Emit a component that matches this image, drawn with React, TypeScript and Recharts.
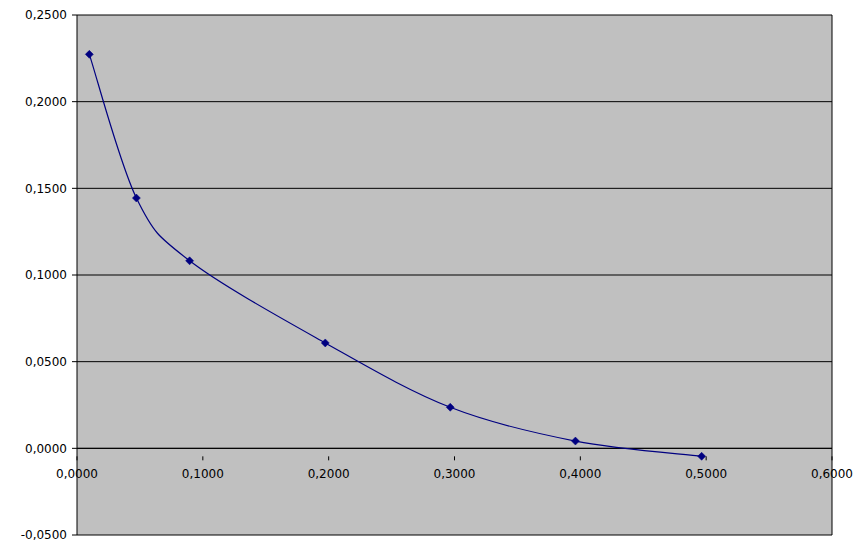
import React from "react";
import { ComposedChart, Line, XAxis, YAxis, CartesianGrid, ReferenceLine } from "recharts";

const xValues = [0.0098, 0.0472, 0.0895, 0.1973, 0.2966, 0.3961, 0.4964];
const yValues = [0.2273, 0.1444, 0.1082, 0.0608, 0.0237, 0.0042, -0.0046];
const xTicks = [0, 0.1, 0.2, 0.3, 0.4, 0.5, 0.6];
const yTicks = [-0.05, 0, 0.05, 0.1, 0.15, 0.2, 0.25];

const data = xValues.map((x, i) => ({ x, y: yValues[i] }));

const CHART_W = 857;
const CHART_H = 537;
const MARGIN = { top: 7, right: 33, left: 0, bottom: 0 };
const X_AXIS_H = 10;
const Y_AXIS_W = 69;
const PLOT_H = CHART_H - MARGIN.top - MARGIN.bottom - X_AXIS_H;
const Y_MIN = yTicks[0];
const Y_MAX = yTicks[yTicks.length - 1];
const ZERO_SHIFT = (PLOT_H * (0 - Y_MIN)) / (Y_MAX - Y_MIN);

const FONT = "'DejaVu Sans', Verdana, sans-serif";
const fmt = (v: number) => v.toFixed(4).replace(".", ",");

// Excel-like smoothed line (Catmull-Rom style Bezier)
const smoothCurve = (context: any) => {
  let pts: number[][] = [];
  return {
    areaStart() {},
    areaEnd() {},
    lineStart() {
      pts = [];
    },
    point(x: number, y: number) {
      pts.push([+x, +y]);
    },
    lineEnd() {
      if (!pts.length) return;
      context.moveTo(pts[0][0], pts[0][1]);
      for (let i = 0; i < pts.length - 1; i++) {
        const p0 = pts[i - 1] || pts[i];
        const p1 = pts[i];
        const p2 = pts[i + 1];
        const p3 = pts[i + 2] || p2;
        const c1x = p1[0] + (p2[0] - p0[0]) / 6;
        const c1y = p1[1] + (p2[1] - p0[1]) / 6;
        const c2x = p2[0] - (p3[0] - p1[0]) / 6;
        const c2y = p2[1] - (p3[1] - p1[1]) / 6;
        context.bezierCurveTo(c1x, c1y, c2x, c2y, p2[0], p2[1]);
      }
    },
  };
};

const XTick = (props: any) => {
  const { x, y, payload } = props;
  const y0 = y - ZERO_SHIFT;
  return (
    <g>
      <line x1={x} y1={y0} x2={x} y2={y0 + 4} stroke="#000" strokeWidth={1} />
      <text x={x} y={y0 + 21.5} textAnchor="middle" fontSize={12} fontFamily={FONT} fill="#000">
        {fmt(payload.value)}
      </text>
    </g>
  );
};

const Diamond = (props: any) => {
  const { cx, cy } = props;
  if (cx == null || cy == null) return null;
  const r = 4;
  return (
    <polygon
      points={`${cx},${cy - r} ${cx + r},${cy} ${cx},${cy + r} ${cx - r},${cy}`}
      fill="#000080"
      stroke="#000080"
      strokeWidth={0.5}
    />
  );
};

export default function App() {
  return (
    <ComposedChart width={CHART_W} height={CHART_H} data={data} margin={MARGIN}>
      <CartesianGrid
        vertical={false}
        horizontal={true}
        stroke="#000"
        strokeWidth={1}
        fill="#c0c0c0"
        fillOpacity={1}
      />
      <XAxis
        dataKey="x"
        type="number"
        domain={[0, 0.6]}
        ticks={xTicks}
        height={X_AXIS_H}
        axisLine={false}
        tickLine={false}
        tick={<XTick />}
        interval={0}
        allowDataOverflow
      />
      <YAxis
        type="number"
        domain={[Y_MIN, Y_MAX]}
        ticks={yTicks}
        width={Y_AXIS_W}
        axisLine={{ stroke: "#000", strokeWidth: 1 }}
        tickLine={{ stroke: "#000", strokeWidth: 1 }}
        tickSize={5}
        tickMargin={5}
        tickFormatter={fmt}
        interval={0}
        tick={{ fill: "#000", fontSize: 12, fontFamily: FONT }}
      />
      <ReferenceLine y={0} stroke="#000" strokeWidth={1} />
      <ReferenceLine x={0.6} stroke="#000" strokeWidth={1} />
      <Line
        dataKey="y"
        type={smoothCurve as any}
        stroke="#000080"
        strokeWidth={1.2}
        dot={<Diamond />}
        activeDot={false}
        isAnimationActive={false}
      />
    </ComposedChart>
  );
}
